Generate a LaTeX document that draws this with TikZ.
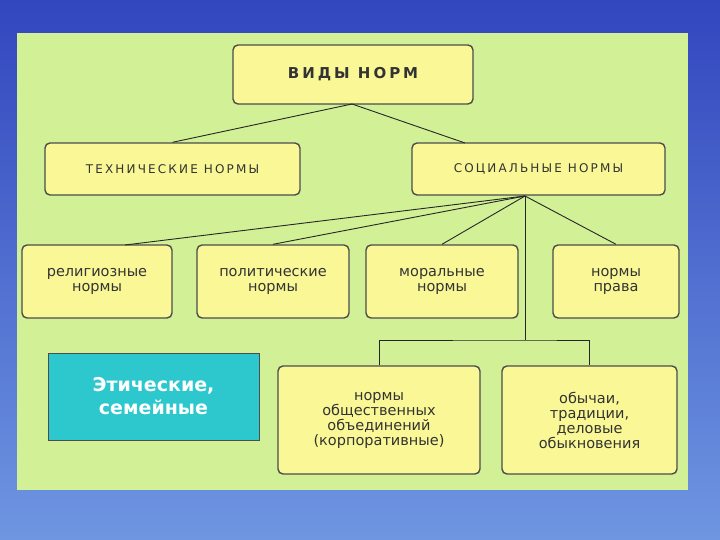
\documentclass[tikz,border=0pt]{standalone}
\usepackage{fontspec}
\setmainfont{DejaVu Sans}
\definecolor{bgtop}{RGB}{50,70,190}
\definecolor{bgbot}{RGB}{110,150,225}
\definecolor{panel}{RGB}{210,240,150}
\definecolor{boxy}{RGB}{250,248,150}
\definecolor{tealbox}{RGB}{45,200,205}
\begin{document}
\begin{tikzpicture}[x=1pt,y=-1pt,
  box/.style={draw=gray!60!black,line width=1.4pt,rounded corners=5pt,fill=boxy,text=black!80,align=center,font=\fontsize{14.5}{15}\selectfont,inner sep=0pt},
  capbox/.style={box,font=\fontsize{12}{13}\selectfont\addfontfeature{LetterSpace=18}},
  ln/.style={draw=black!85,line width=0.9pt}]
\useasboundingbox (0,0) rectangle (720,540);
\shade[top color=bgtop, bottom color=bgbot] (0,0) rectangle (720,540);
\fill[panel] (17,33) rectangle (688,490);
\node[capbox,minimum width=240pt,minimum height=59pt,font=\fontsize{15}{16}\selectfont\bfseries\addfontfeature{LetterSpace=20}] (v) at (353,74.5) {ВИДЫ НОРМ};
\node[capbox,minimum width=255pt,minimum height=52pt] (t) at (172.5,169) {ТЕХНИЧЕСКИЕ НОРМЫ};
\node[capbox,minimum width=253pt,minimum height=52pt] (s) at (538.5,169) {СОЦИАЛЬНЫЕ НОРМЫ};
\node[box,minimum width=150pt,minimum height=73pt] (r) at (97,281.5) {религиозные\\нормы};
\node[box,minimum width=152pt,minimum height=73pt] (p) at (273,281.5) {политические\\нормы};
\node[box,minimum width=152pt,minimum height=73pt] (m) at (442,281.5) {моральные\\нормы};
\node[box,minimum width=126pt,minimum height=73pt] (n) at (616,281.5) {нормы\\права};
\node[draw=gray!60!black,line width=1pt,fill=tealbox,text=white,align=center,minimum width=211pt,minimum height=87pt,font=\fontsize{19}{23}\selectfont\bfseries] (e) at (153.5,396.5) {Этические,\\семейные};
\node[box,minimum width=202pt,minimum height=108pt] (o) at (379,420) {нормы\\общественных\\объединений\\(корпоративные)};
\node[box,minimum width=175pt,minimum height=108pt] (d) at (589.5,420) {обычаи,\\традиции,\\деловые\\обыкновения};
\coordinate (vb) at (352,104);
\coordinate (sb) at (525,196);
\coordinate (j) at (525,340);
\coordinate (sn) at (465,143);
\coordinate (rn) at (125,245);
\draw[ln] (vb) -- (t.north);
\draw[ln] (vb) -- (sn);
\draw[ln] (sb) -- (rn);
\draw[ln] (sb) -- (p.north);
\draw[ln] (sb) -- (m.north);
\draw[ln] (sb) -- (n.north);
\draw[ln] (sb) -- (j);
\draw[ln] (o.north) |- (j) -| (d.north);
\end{tikzpicture}
\end{document}
